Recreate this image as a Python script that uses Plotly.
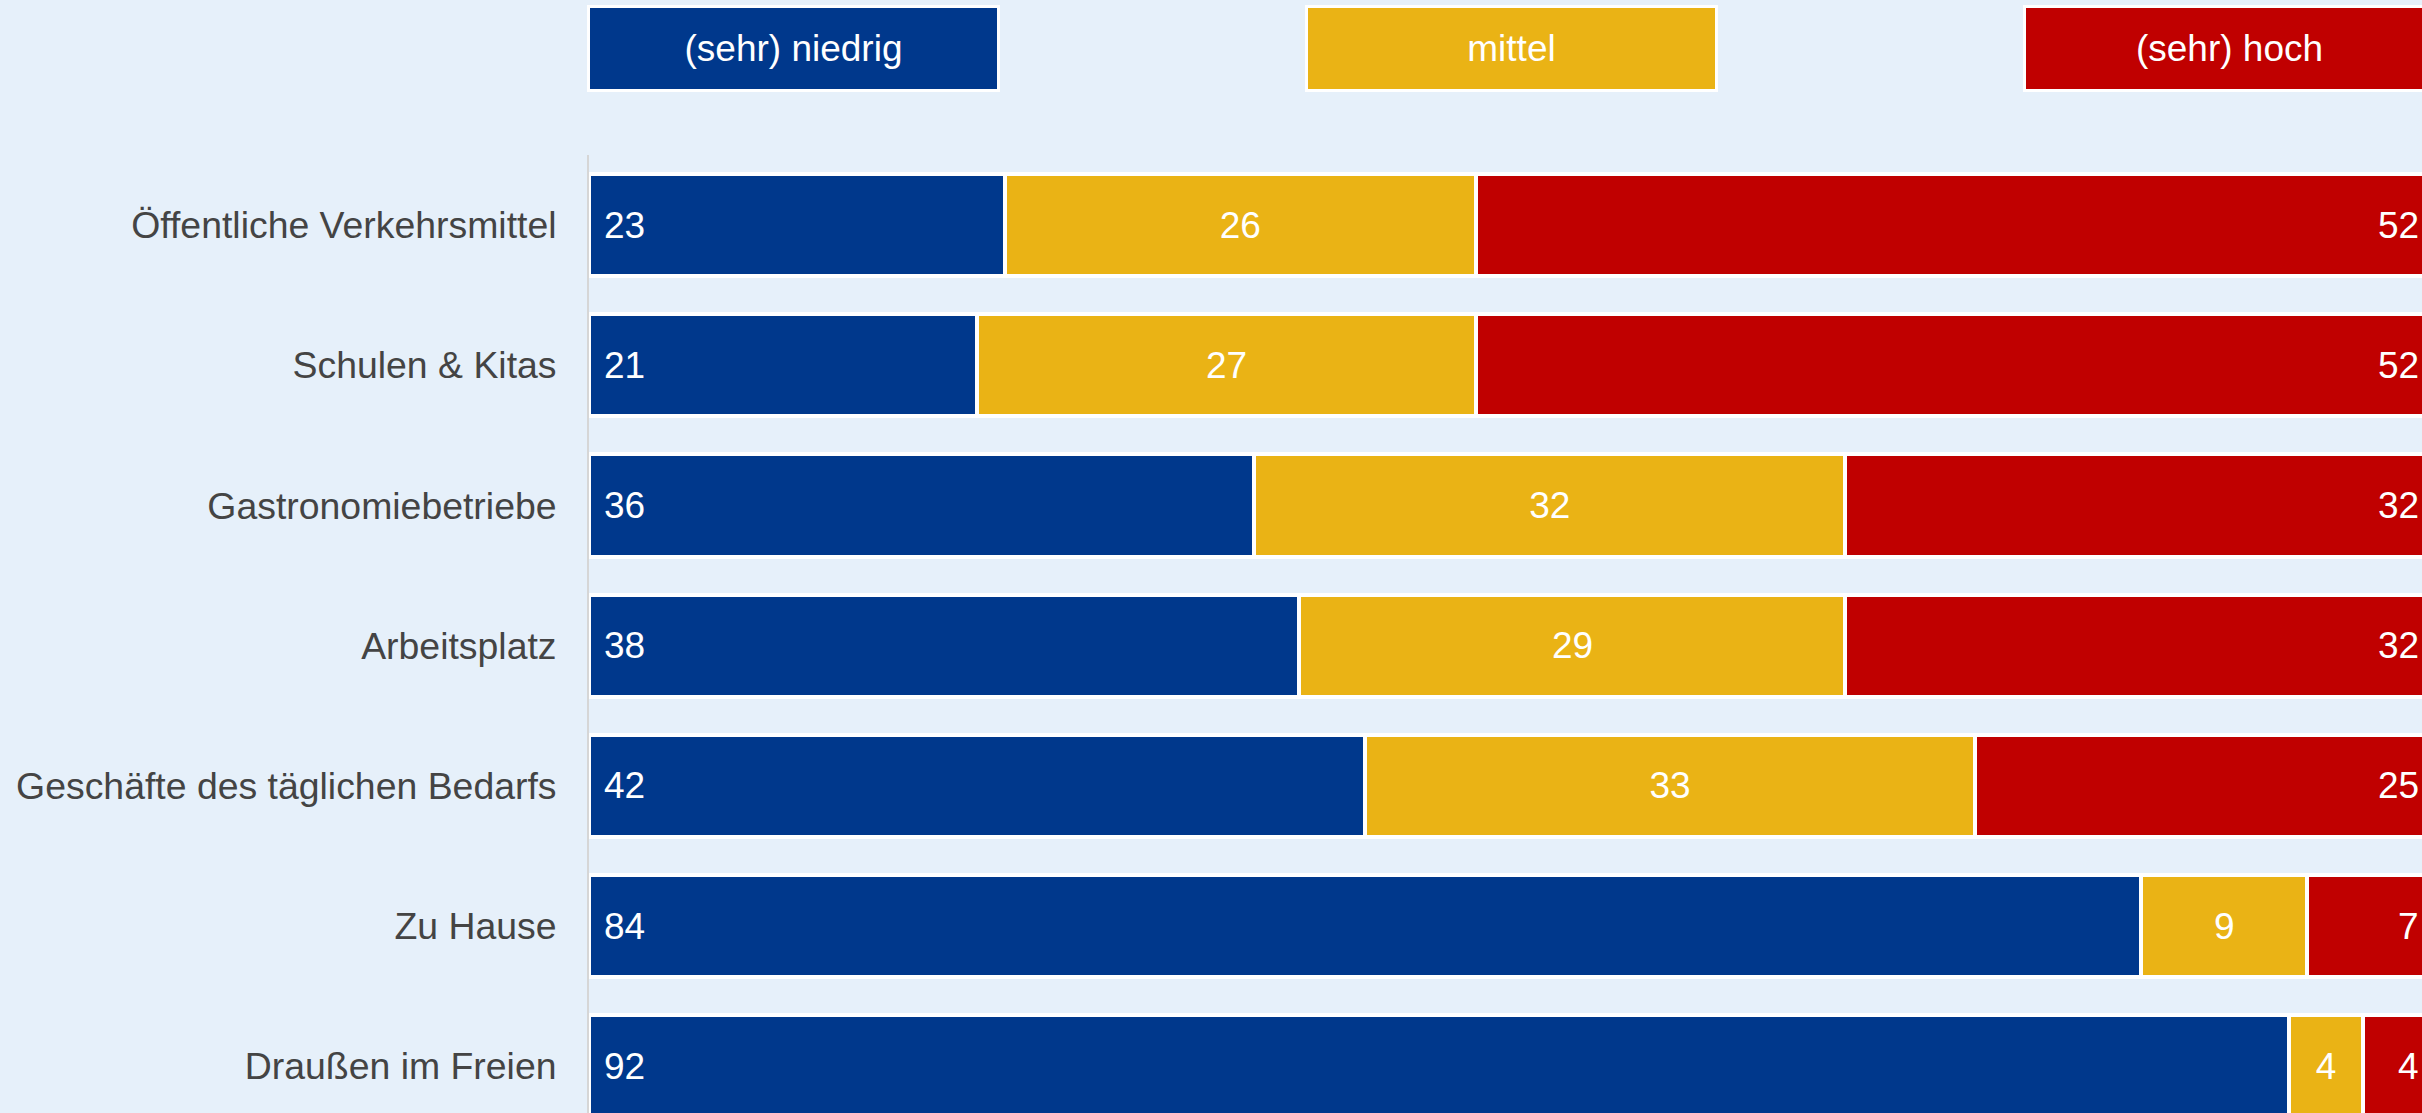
import plotly.graph_objects as go

categories = [
    "Öffentliche Verkehrsmittel",
    "Schulen & Kitas",
    "Gastronomiebetriebe",
    "Arbeitsplatz",
    "Geschäfte des täglichen Bedarfs",
    "Zu Hause",
    "Draußen im Freien",
]

series_names = ["(sehr) niedrig", "mittel", "(sehr) hoch"]

niedrig = [22.5, 21.0, 36.0, 38.45, 42.0, 84.0, 92.0]
mittel = [25.5, 27.0, 32.0, 29.55, 33.0, 9.0, 4.0]
hoch = [52.0, 52.0, 32.0, 32.0, 25.0, 7.0, 4.0]

niedrig_labels = ["23", "21", "36", "38", "42", "84", "92"]
mittel_labels = ["26", "27", "32", "29", "33", "9", "4"]
hoch_labels = ["52", "52", "32", "32", "25", "7", "4"]

BLUE = "#00388c"
YELLOW = "#eab315"
RED = "#c00000"
BG = "#e6f0fa"
FONT = "Liberation Sans, Arial, sans-serif"
FS = 37
X_MAX = 99.2  # visible part of the value axis (chart is cut at the right edge)

fig = go.Figure()
fig.add_trace(go.Bar(
    y=categories, x=niedrig, orientation="h", name=series_names[0],
    marker=dict(color=BLUE, line=dict(color="white", width=4)),
    textposition="none", hoverinfo="skip",
))
fig.add_trace(go.Bar(
    y=categories, x=mittel, orientation="h", name=series_names[1],
    marker=dict(color=YELLOW, line=dict(color="white", width=4)),
    text=mittel_labels, textposition="inside", insidetextanchor="middle",
    constraintext="none",
    textfont=dict(color="white", size=FS, family=FONT), hoverinfo="skip",
))
fig.add_trace(go.Bar(
    y=categories, x=hoch, orientation="h", name=series_names[2],
    marker=dict(color=RED, line=dict(color="white", width=4)),
    textposition="none", hoverinfo="skip",
))

annotations = []
for cat, lbl in zip(categories, niedrig_labels):
    annotations.append(dict(
        x=0, y=cat, xref="x", yref="y", text=lbl, showarrow=False,
        xanchor="left", yanchor="middle", xshift=13,
        font=dict(color="white", size=FS, family=FONT),
    ))
for cat, n, m, h, lbl in zip(categories, niedrig, mittel, hoch, hoch_labels):
    annotations.append(dict(
        x=(n + m + h) / X_MAX, y=cat, xref="paper", yref="y", text=lbl,
        showarrow=False, xanchor="right", yanchor="middle", xshift=-16,
        font=dict(color="white", size=FS, family=FONT),
    ))

# legend boxes
legend_x = [0.1115, 0.5034, 0.8950]
legend_colors = [BLUE, YELLOW, RED]
for name, lx, col in zip(series_names, legend_x, legend_colors):
    annotations.append(dict(
        x=lx, y=1, xref="paper", yref="paper", yshift=107,
        text=name, showarrow=False, xanchor="center", yanchor="middle",
        width=407, height=81, bgcolor=col, bordercolor="white",
        borderwidth=3, borderpad=0, align="center", valign="middle",
        font=dict(color="white", size=FS, family=FONT),
    ))

fig.update_layout(
    width=2422, height=1113,
    barmode="stack", bargap=0.27,
    showlegend=False,
    paper_bgcolor=BG, plot_bgcolor=BG,
    margin=dict(l=589, r=0, t=155, b=0, pad=0),
    font=dict(family=FONT, size=FS, color="#404040"),
    annotations=annotations,
    xaxis=dict(range=[0, X_MAX], showgrid=False, zeroline=False,
               showticklabels=False, showline=False, fixedrange=True),
    yaxis=dict(range=[6.333, -0.5], showgrid=False, zeroline=False,
               showline=True, linecolor="#d6d6d6", linewidth=2,
               ticks="", ticklabelstandoff=23,
               tickfont=dict(size=37.4, color="#444444", family=FONT),
               fixedrange=True),
)

fig.write_html(
    "out.html",
    config={"displayModeBar": False},
    post_script="document.body.style.margin='0';document.body.style.overflow='hidden';",
)
